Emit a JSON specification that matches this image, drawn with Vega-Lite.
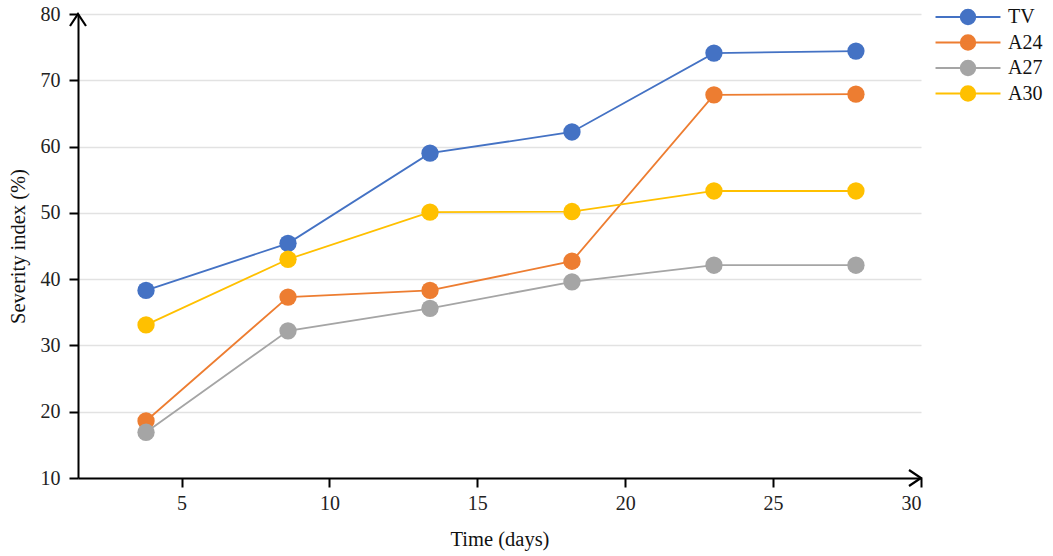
{
  "$schema": "https://vega.github.io/schema/vega-lite/v6.json",
  "autosize": "none",
  "width": 843,
  "height": 464,
  "padding": {"left": 78, "top": 14, "right": 132, "bottom": 78},
  "background": "white",
  "config": {
    "view": {"stroke": null},
    "font": "Liberation Serif",
    "axis": {"labelFont": "Liberation Serif", "titleFont": "Liberation Serif", "labelFontSize": 20, "titleFontSize": 20.5, "labelColor": "#222", "titleColor": "#111", "titleFontWeight": "normal"},
    "legend": {"labelFont": "Liberation Serif", "labelFontSize": 20, "labelColor": "#111"}
  },
  "datasets": {
    "series": [
      {"day": 3.8, "value": 38.3, "group": "TV"},
      {"day": 8.6, "value": 45.4, "group": "TV"},
      {"day": 13.4, "value": 59.0, "group": "TV"},
      {"day": 18.2, "value": 62.2, "group": "TV"},
      {"day": 23.0, "value": 74.1, "group": "TV"},
      {"day": 27.8, "value": 74.4, "group": "TV"},
      {"day": 3.8, "value": 18.6, "group": "A24"},
      {"day": 8.6, "value": 37.3, "group": "A24"},
      {"day": 13.4, "value": 38.3, "group": "A24"},
      {"day": 18.2, "value": 42.7, "group": "A24"},
      {"day": 23.0, "value": 67.8, "group": "A24"},
      {"day": 27.8, "value": 67.9, "group": "A24"},
      {"day": 3.8, "value": 16.9, "group": "A27"},
      {"day": 8.6, "value": 32.2, "group": "A27"},
      {"day": 13.4, "value": 35.6, "group": "A27"},
      {"day": 18.2, "value": 39.6, "group": "A27"},
      {"day": 23.0, "value": 42.1, "group": "A27"},
      {"day": 27.8, "value": 42.1, "group": "A27"},
      {"day": 3.8, "value": 33.1, "group": "A30"},
      {"day": 8.6, "value": 43.0, "group": "A30"},
      {"day": 13.4, "value": 50.1, "group": "A30"},
      {"day": 18.2, "value": 50.2, "group": "A30"},
      {"day": 23.0, "value": 53.3, "group": "A30"},
      {"day": 27.8, "value": 53.3, "group": "A30"}
    ]
  },
  "layer": [
    {
      "data": {"name": "series"},
      "mark": {"type": "line", "strokeWidth": 1.8},
      "encoding": {
        "x": {"field": "day", "type": "quantitative", "scale": {"domain": [1.5, 30], "nice": false, "zero": false},
          "axis": {"title": "Time (days)", "values": [5, 10, 15, 20, 25, 30], "grid": false, "domainColor": "black", "domainWidth": 2, "tickColor": "black", "tickWidth": 2, "tickSize": 9, "labelPadding": 6, "titlePadding": 16}},
        "y": {"field": "value", "type": "quantitative", "scale": {"domain": [10, 80], "nice": false, "zero": false},
          "axis": {"title": "Severity index (%)", "values": [10, 20, 30, 40, 50, 60, 70, 80], "grid": true, "gridColor": "#e2e2e2", "gridWidth": 1.5, "domainColor": "black", "domainWidth": 2, "tickColor": "black", "tickWidth": 2, "tickSize": 9, "labelPadding": 9, "titlePadding": 12}},
        "color": {"field": "group", "type": "nominal", "sort": ["TV", "A24", "A27", "A30"],
          "scale": {"domain": ["TV", "A24", "A27", "A30"], "range": ["#4472C4", "#ED7D31", "#A5A5A5", "#FFC000"]},
          "legend": {"title": null, "orient": "none", "legendX": 880, "legendY": -7, "padding": 0,
            "symbolType": "M-4.06,0 L4.06,0 M-0.9,0 A0.9,0.9 0 1,1 0.9,0 A0.9,0.9 0 1,1 -0.9,0 Z",
            "symbolSize": 256, "symbolStrokeWidth": 2, "symbolOpacity": 1, "labelOffset": 30, "rowPadding": 1.5,
            "encode": {"symbols": {"update": {"stroke": {"signal": "scale('color', datum.value)"}, "fill": {"signal": "scale('color', datum.value)"}, "strokeWidth": {"value": 2}}}}}}
      }
    },
    {
      "data": {"name": "series"},
      "mark": {"type": "point", "filled": true, "size": 300, "opacity": 1},
      "encoding": {
        "x": {"field": "day", "type": "quantitative"},
        "y": {"field": "value", "type": "quantitative"},
        "color": {"field": "group", "type": "nominal", "sort": ["TV", "A24", "A27", "A30"],
          "legend": {"title": null, "orient": "none", "legendX": 880, "legendY": -7, "padding": 0,
            "symbolType": "M-4.06,0 L4.06,0 M-0.9,0 A0.9,0.9 0 1,1 0.9,0 A0.9,0.9 0 1,1 -0.9,0 Z",
            "symbolSize": 256, "symbolStrokeWidth": 2, "symbolOpacity": 1, "labelOffset": 30, "rowPadding": 1.5,
            "encode": {"symbols": {"update": {"stroke": {"signal": "scale('color', datum.value)"}, "fill": {"signal": "scale('color', datum.value)"}, "strokeWidth": {"value": 2}}}}}}
      }
    },
    {
      "data": {"values": [{"day": 1.5, "value": 80}]},
      "mark": {"type": "point", "shape": "M-1,1.5 L0,0 L1,1.5", "size": 256, "filled": false, "stroke": "black", "strokeWidth": 2.2, "opacity": 1},
      "encoding": {
        "x": {"field": "day", "type": "quantitative"},
        "y": {"field": "value", "type": "quantitative"}
      }
    },
    {
      "data": {"values": [{"day": 30, "value": 10}]},
      "mark": {"type": "point", "shape": "M-1.5,-1 L0,0 L-1.5,1", "size": 256, "filled": false, "stroke": "black", "strokeWidth": 2.2, "opacity": 1},
      "encoding": {
        "x": {"field": "day", "type": "quantitative"},
        "y": {"field": "value", "type": "quantitative"}
      }
    }
  ]
}
